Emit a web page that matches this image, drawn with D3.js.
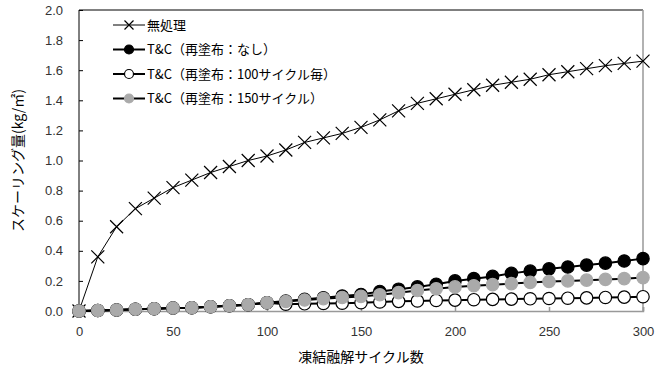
<!DOCTYPE html>
<html>
<head>
<meta charset="utf-8">
<script src="https://cdn.jsdelivr.net/npm/d3@7"></script>
<style>
  body { margin: 0; background: #fff; }
  text { font-family: "Liberation Sans", Arial, sans-serif; }
  .jp { font-family: "Noto Sans CJK JP", sans-serif; }
</style>
</head>
<body>
<svg></svg>
<script>
 var cycles = d3.range(0, 301, 10);
 var seriesNames = ["無処理", "T&C（再塗布：なし）", "T&C（再塗布：100サイクル毎）", "T&C（再塗布：150サイクル）"];

 var untreated = [0, 0.36, 0.56, 0.68, 0.75, 0.82, 0.87, 0.92, 0.96, 1.00, 1.03, 1.07, 1.12, 1.15, 1.18, 1.22,
   1.27, 1.33, 1.38, 1.41, 1.44, 1.47, 1.50, 1.52, 1.54, 1.57, 1.59, 1.61, 1.63, 1.645, 1.66];
 var noRecoat = [0, 0.003, 0.007, 0.012, 0.015, 0.02, 0.022, 0.028, 0.035, 0.042, 0.055, 0.066, 0.078, 0.088, 0.1, 0.11,
   0.13, 0.145, 0.16, 0.178, 0.2, 0.215, 0.23, 0.25, 0.265, 0.28, 0.292, 0.305, 0.318, 0.332, 0.348];
 var recoat100 = [0, 0.003, 0.007, 0.012, 0.015, 0.02, 0.022, 0.028, 0.035, 0.042, 0.055, 0.045, 0.048, 0.05, 0.052, 0.055,
   0.06, 0.064, 0.067, 0.07, 0.072, 0.075, 0.077, 0.079, 0.081, 0.083, 0.085, 0.087, 0.09, 0.092, 0.095];
 var recoat150 = [0, 0.003, 0.007, 0.012, 0.015, 0.02, 0.022, 0.028, 0.035, 0.042, 0.055, 0.063, 0.073, 0.082, 0.09, 0.097,
   0.108, 0.122, 0.136, 0.148, 0.16, 0.168, 0.175, 0.182, 0.19, 0.196, 0.2, 0.205, 0.21, 0.215, 0.222];

 var xTicks = [0, 50, 100, 150, 200, 250, 300];
 var yTicks = [0, 0.2, 0.4, 0.6, 0.8, 1.0, 1.2, 1.4, 1.6, 1.8, 2.0];

 var width = 660, height = 370,
 margins = {top: 10, right: 17, bottom: 59, left: 79};

 var svg = d3.select("svg")
 .attr("width", width)
 .attr("height", height);

 var x = d3.scaleLinear()
 .domain([0, 300])
 .range([margins.left, width - margins.right]);

 var y = d3.scaleLinear()
 .domain([0, 2.0])
 .range([height - margins.bottom, margins.top]);

 // frame: top black, right gray
 svg.append("line")
 .attr("x1", x(0)).attr("x2", x(300))
 .attr("y1", y(2)).attr("y2", y(2))
 .attr("stroke", "#000").attr("stroke-width", 1);
 svg.append("line")
 .attr("x1", x(300)).attr("x2", x(300))
 .attr("y1", y(2)).attr("y2", y(0))
 .attr("stroke", "#999").attr("stroke-width", 1.5);

 // x axis
 var xAxis = svg.append("g")
 .attr("transform", "translate(0," + y(0) + ")")
 .call(d3.axisBottom(x).tickValues(xTicks).tickSize(-4).tickPadding(16).tickFormat(d3.format("d")));
 xAxis.selectAll("line, path").attr("stroke", "#999").attr("stroke-width", 1.5);
 xAxis.selectAll("text").attr("font-size", 13).attr("fill", "#333");

 // y axis
 var yAxis = svg.append("g")
 .attr("transform", "translate(" + x(0) + ",0)")
 .call(d3.axisLeft(y).tickValues(yTicks).tickSize(-4).tickPadding(16).tickFormat(d3.format(".1f")));
 yAxis.selectAll("line, path").attr("stroke", "#000").attr("stroke-width", 1);
 yAxis.select("path").attr("d", "M0," + y(0) + "V" + y(2));
 yAxis.selectAll("text").attr("font-size", 13).attr("fill", "#333");

 var line = d3.line()
 .x(function(d, i) { return x(cycles[i]); })
 .y(function(d) { return y(d); });

 var graphGroup = svg.append("g");

 // 無処理
 graphGroup.append("path")
 .datum(untreated)
 .attr("d", line)
 .attr("fill", "none")
 .attr("stroke", "#000")
 .attr("stroke-width", 1);

 var circleSeries = [
   {values: noRecoat, fill: "#000", stroke: "#000"},
   {values: recoat100, fill: "#fff", stroke: "#000"},
   {values: recoat150, fill: "#aaa", stroke: "#aaa"}
 ];

 circleSeries.forEach(function(s) {
   graphGroup.append("path")
   .datum(s.values)
   .attr("d", line)
   .attr("fill", "none")
   .attr("stroke", "#000")
   .attr("stroke-width", 2);
 });

 function cross(g, cx, cy, r) {
   g.append("path")
   .attr("d", "M" + (cx - r) + "," + (cy - r) + "L" + (cx + r) + "," + (cy + r) +
     "M" + (cx - r) + "," + (cy + r) + "L" + (cx + r) + "," + (cy - r))
   .attr("stroke", "#000")
   .attr("stroke-width", 1.2)
   .attr("fill", "none");
 }

 untreated.forEach(function(v, i) {
   cross(graphGroup, x(cycles[i]), y(v), 6.5);
 });

 circleSeries.forEach(function(s) {
   graphGroup.append("g")
   .selectAll("circle")
   .data(s.values)
   .enter().append("circle")
   .attr("cx", function(d, i) { return x(cycles[i]); })
   .attr("cy", function(d) { return y(d); })
   .attr("r", 6.2)
   .attr("fill", s.fill)
   .attr("stroke", s.stroke)
   .attr("stroke-width", 1.2);
 });

 // legend
 var legend = svg.append("g");
 var legendY = [25, 49.5, 74, 98.5];
 var lx0 = 113, lx1 = 145, lm = 129;

 seriesNames.forEach(function(name, i) {
   var ly = legendY[i];
   legend.append("line")
   .attr("x1", lx0).attr("x2", lx1)
   .attr("y1", ly).attr("y2", ly)
   .attr("stroke", "#000")
   .attr("stroke-width", i === 0 ? 1 : 2);
   if (i === 0) {
     cross(legend, lm, ly, 4.5);
   } else {
     var s = circleSeries[i - 1];
     legend.append("circle")
     .attr("cx", lm).attr("cy", ly).attr("r", 4.5)
     .attr("fill", s.fill).attr("stroke", s.stroke).attr("stroke-width", 1.2);
   }
   legend.append("text")
   .attr("class", "jp")
   .attr("x", lx1 + 2)
   .attr("y", ly)
   .attr("dy", "0.35em")
   .attr("font-size", 13)
   .attr("fill", "#000")
   .text(name);
 });

 // axis titles
 svg.append("text")
 .attr("class", "jp")
 .attr("x", x(150))
 .attr("y", 357)
 .attr("dy", "0.35em")
 .attr("text-anchor", "middle")
 .attr("font-size", 14)
 .attr("fill", "#000")
 .text("凍結融解サイクル数");

 svg.append("text")
 .attr("class", "jp")
 .attr("transform", "translate(18," + y(1) + ") rotate(-90)")
 .attr("dy", "0.35em")
 .attr("text-anchor", "middle")
 .attr("font-size", 14)
 .attr("fill", "#000")
 .text("スケーリング量(kg/㎡)");
</script>
</body>
</html>
